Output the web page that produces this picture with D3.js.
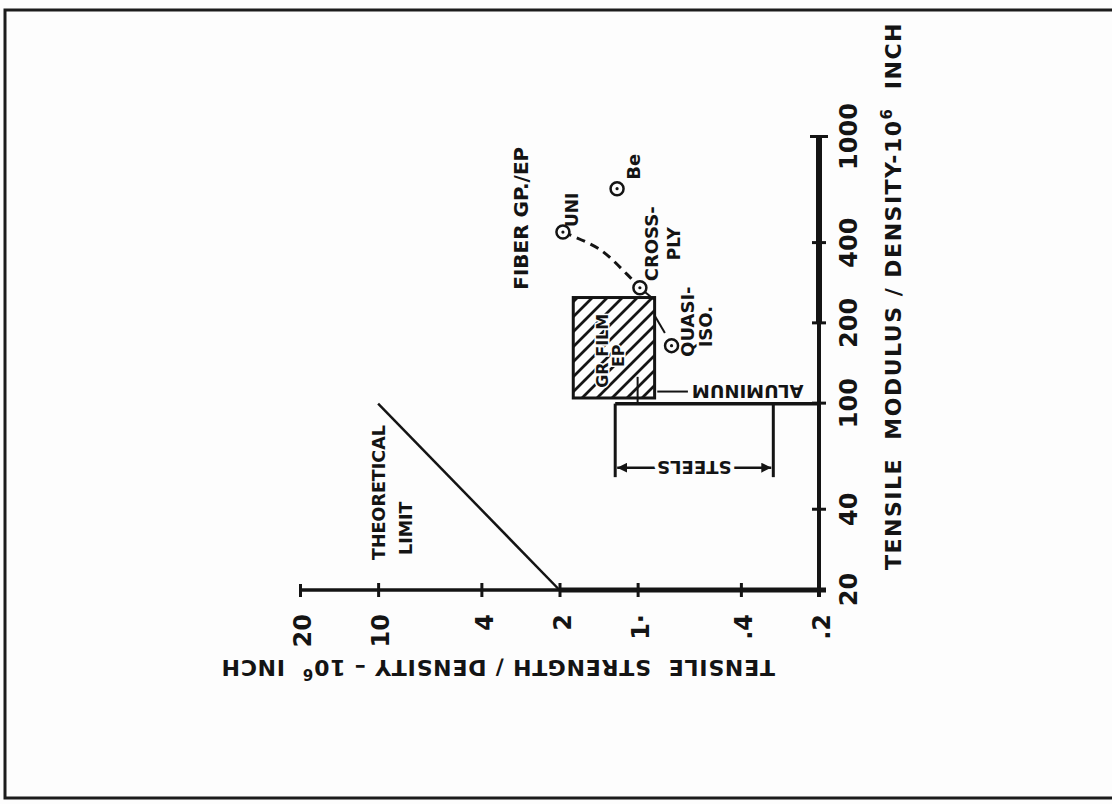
<!DOCTYPE html>
<html>
<head>
<meta charset="utf-8">
<script src="https://cdn.jsdelivr.net/npm/d3@7"></script>
<style>
    body { margin: 0; background: #fdfdfd; }
    svg { display: block; }
    text { font-family: "DejaVu Sans", sans-serif; font-weight: bold; fill: #141414; }
</style>
</head>
<body>
<svg id="svg" width="1112" height="804"></svg>
<script>
// axis ticks
var modTicks = [20, 40, 100, 200, 400, 1000],
    modLabels = ['20', '40', '100', '200', '400', '1000'],
    strTicks = [20, 10, 4, 2, 1, 0.4, 0.2],
    strLabels = ['20', '10', '4', '2', '1·', '.4', '.2'];

// materials (modulus/density, strength/density)
var pointNames = ['UNI', 'Be', 'CROSS-PLY', 'QUASI-ISO.'],
    pointModulus = [440, 640, 272, 165],
    pointStrength = [1.94, 1.2, 0.98, 0.74];

var fiberCurveModulus = [440, 379, 306, 272],
    fiberCurveStrength = [1.94, 1.40, 1.10, 0.98];

var quasiLeadModulus = [[272, 246], [214, 184]],
    quasiLeadStrength = [[0.98, 0.865], [0.86, 0.785]];

var theoryModulus = [20, 100],
    theoryStrength = [2, 10];

var filmModulus = [105, 250],
    filmStrength = [0.86, 1.77];

var steelModulus = [53, 100],
    steelStrength = [0.30, 1.22],
    steelDimModulus = 57.5;

var aluminumModulus = 100,
    aluminumStrength = [0.2, 1.22],
    aluminumMarkModulus = [100, 126],
    aluminumMarkStrength = 1.0,
    aluminumLeadModulus = 111,
    aluminumLeadStrength = [0.84, 0.64];

(function () {

    var ink = '#141414';

    var $svg = d3.select('#svg');

    // page frame
    $svg.append('path')
        .attr('d', 'M1112,10H5V798H1112')
        .attr('fill', 'none')
        .attr('stroke', '#1c1c1c')
        .attr('stroke-width', 3);

    var defs = $svg.append('defs');
    defs.append('pattern')
        .attr('id', 'hatch')
        .attr('patternUnits', 'userSpaceOnUse')
        .attr('width', 15)
        .attr('height', 15)
        .append('path')
        .attr('d', 'M0,0L15,15M-15,0L15,30M0,-15L30,15')
        .attr('stroke', ink)
        .attr('stroke-width', 2.8);

    var marker = defs.append('marker')
        .attr('id', 'arrow')
        .attr('viewBox', '0 0 10 10')
        .attr('refX', 10)
        .attr('refY', 5)
        .attr('markerWidth', 4)
        .attr('markerHeight', 4)
        .attr('orient', 'auto-start-reverse');
    marker.append('path').attr('d', 'M0,0L10,5L0,10z').attr('fill', ink);

    var x = d3.scaleLog().domain([20, 1000]).range([0, 453]),
        y = d3.scaleLog().domain([0.2, 20]).range([519, 0]);

    // whole chart is drawn upright, then turned a quarter counter-clockwise
    var $plot = $svg.append('g')
        .attr('transform', 'translate(300,590) rotate(-90)');

    function seg(x1, y1, x2, y2, w) {
        return $plot.append('line')
            .attr('x1', x1).attr('y1', y1)
            .attr('x2', x2).attr('y2', y2)
            .attr('stroke', ink)
            .attr('stroke-width', w);
    }

    // axis lines
    seg(x(20) - 7, y(0.2), x(200), y(0.2), 4);
    seg(x(200), y(0.2), x(1000), y(0.2), 6);
    seg(x(20), y(20), x(20), y(2), 3.5);
    seg(x(20), y(2), x(20), y(0.2) + 7, 5);

    var $xAxis = $plot.append('g')
        .attr('transform', 'translate(0,' + y(0.2) + ')')
        .call(d3.axisBottom(x)
            .tickValues(modTicks)
            .tickFormat(function (d, i) { return modLabels[i]; })
            .tickSize(7)
            .tickPadding(14));
    $xAxis.select('.domain').remove();
    $xAxis.attr('font-family', '"DejaVu Sans", sans-serif')
        .attr('font-size', 24)
        .attr('font-weight', 'bold')
        .style('color', ink);
    $xAxis.selectAll('.tick line')
        .attr('y1', function (d) { return d === 1000 ? -9 : -7; })
        .attr('y2', function (d) { return d === 1000 ? 9 : 7; })
        .attr('stroke-width', 3);

    var $yAxis = $plot.append('g')
        .call(d3.axisLeft(y)
            .tickValues(strTicks)
            .tickFormat(function (d, i) { return strLabels[i]; })
            .tickSize(7)
            .tickPadding(17));
    $yAxis.select('.domain').remove();
    $yAxis.attr('font-family', '"DejaVu Sans", sans-serif')
        .attr('font-size', 24)
        .attr('font-weight', 'bold')
        .style('color', ink);
    $yAxis.selectAll('.tick line')
        .attr('x1', function (d) { return d === 20 ? 6 : 7; })
        .attr('stroke-width', 3);
    $yAxis.selectAll('.tick text').attr('dy', '0.45em');

    // axis titles
    var $xt = $plot.append('text')
        .attr('x', x(20) + 20)
        .attr('y', y(0.2) + 82)
        .attr('font-size', 22)
        .attr('letter-spacing', 1.5)
        .style('white-space', 'pre');
    $xt.append('tspan').text('TENSILE  MODULUS / DENSITY-10');
    $xt.append('tspan').attr('dy', -9).attr('font-size', 15).text('6');
    $xt.append('tspan').attr('dy', 9).text('  INCH');

    var $yt = $plot.append('text')
        .attr('transform', 'translate(' + (x(20) - 70) + ',' + (y(0.2) - 44) + ') rotate(-90)')
        .attr('font-size', 22)
        .attr('letter-spacing', 0.8)
        .style('white-space', 'pre');
    $yt.append('tspan').text('TENSILE  STRENGTH / DENSITY – 10');
    $yt.append('tspan').attr('dy', -9).attr('font-size', 15).text('6');
    $yt.append('tspan').attr('dy', 9).text('  INCH');

    // theoretical limit
    seg(x(theoryModulus[0]), y(theoryStrength[0]), x(theoryModulus[1]), y(theoryStrength[1]), 2.5);
    $plot.append('text')
        .attr('x', x(20) + 30).attr('y', y(10) + 7)
        .attr('font-size', 17.5)
        .text('THEORETICAL');
    $plot.append('text')
        .attr('x', x(20) + 35).attr('y', y(10) + 34)
        .attr('font-size', 17.5)
        .text('LIMIT');

    // aluminum
    seg(x(aluminumModulus), y(aluminumStrength[0]), x(aluminumModulus), y(aluminumStrength[1]), 3.5);
    seg(x(aluminumMarkModulus[0]), y(aluminumMarkStrength), x(aluminumMarkModulus[1]), y(aluminumMarkStrength), 2);
    seg(x(aluminumLeadModulus), y(aluminumLeadStrength[0]), x(aluminumLeadModulus), y(aluminumLeadStrength[1]), 2);
    $plot.append('text')
        .attr('transform', 'translate(' + x(aluminumLeadModulus) + ',' + (y(aluminumLeadStrength[1]) + 4) + ') rotate(-90)')
        .attr('text-anchor', 'end')
        .attr('dy', '0.36em')
        .attr('font-size', 18)
        .text('ALUMINUM');

    // steels bracket
    steelStrength.forEach(function (s) {
        seg(x(steelModulus[1]), y(s), x(steelModulus[0]), y(s), 3);
    });
    seg(x(steelDimModulus), y(steelStrength[1]) + 2, x(steelDimModulus), y(steelStrength[0]) - 2, 2.5)
        .attr('marker-start', 'url(#arrow)')
        .attr('marker-end', 'url(#arrow)');
    $plot.append('text')
        .attr('transform', 'translate(' + x(steelDimModulus) + ',' + ((y(steelStrength[0]) + y(steelStrength[1])) / 2) + ') rotate(-90)')
        .attr('text-anchor', 'middle')
        .attr('dy', '0.36em')
        .attr('font-size', 18)
        .attr('stroke', '#fdfdfd')
        .attr('stroke-width', 8)
        .attr('paint-order', 'stroke')
        .text('STEELS');

    // graphite film box
    $plot.append('rect')
        .attr('x', x(filmModulus[0]))
        .attr('y', y(filmStrength[1]))
        .attr('width', x(filmModulus[1]) - x(filmModulus[0]))
        .attr('height', y(filmStrength[0]) - y(filmStrength[1]))
        .attr('fill', 'url(#hatch)')
        .attr('stroke', ink)
        .attr('stroke-width', 3);
    var uc = (x(filmModulus[0]) + x(filmModulus[1])) / 2,
        vc = (y(filmStrength[0]) + y(filmStrength[1])) / 2;
    $plot.append('text')
        .attr('x', uc - 3).attr('y', vc - 6)
        .attr('text-anchor', 'middle')
        .attr('font-size', 16)
        .attr('stroke', '#fdfdfd').attr('stroke-width', 3).attr('paint-order', 'stroke')
        .text('GR FILM');
    $plot.append('text')
        .attr('x', uc - 8).attr('y', vc + 10)
        .attr('text-anchor', 'middle')
        .attr('font-size', 16)
        .attr('stroke', '#fdfdfd').attr('stroke-width', 3).attr('paint-order', 'stroke')
        .text('EP');

    // fiber gr/ep family
    var curve = fiberCurveModulus.map(function (m, i) { return [m, fiberCurveStrength[i]]; });
    $plot.append('path')
        .attr('d', d3.line()
            .x(function (d) { return x(d[0]); })
            .y(function (d) { return y(d[1]); })
            .curve(d3.curveCatmullRom)(curve))
        .attr('fill', 'none')
        .attr('stroke', ink)
        .attr('stroke-width', 3)
        .attr('stroke-dasharray', '9,6');

    quasiLeadModulus.forEach(function (ms, i) {
        seg(x(ms[0]), y(quasiLeadStrength[i][0]), x(ms[1]), y(quasiLeadStrength[i][1]), 2);
    });

    var points = pointNames.map(function (n, i) {
        return { name: n, m: pointModulus[i], s: pointStrength[i] };
    });

    var $pts = $plot.append('g').selectAll('g.pt')
        .data(points)
        .join('g')
        .attr('class', 'pt')
        .attr('transform', function (d) { return 'translate(' + x(d.m) + ',' + y(d.s) + ')'; });
    $pts.append('circle')
        .attr('r', 6.5)
        .attr('fill', '#fdfdfd')
        .attr('stroke', ink)
        .attr('stroke-width', 2.5);
    $pts.append('circle')
        .attr('r', 1.6)
        .attr('fill', ink);

    var pu = function (i) { return x(pointModulus[i]); },
        pv = function (i) { return y(pointStrength[i]); };

    $plot.append('text').attr('x', pu(0) + 5).attr('y', pv(0) + 15).attr('font-size', 17).text('UNI');
    $plot.append('text').attr('x', pu(1) + 9).attr('y', pv(1) + 23).attr('font-size', 18).text('Be');
    $plot.append('text').attr('x', pu(2) + 44).attr('y', pv(2) + 18).attr('text-anchor', 'middle').attr('font-size', 18).text('CROSS-');
    $plot.append('text').attr('x', pu(2) + 44).attr('y', pv(2) + 40).attr('text-anchor', 'middle').attr('font-size', 17).text('PLY');
    $plot.append('text').attr('x', pu(3) + 24).attr('y', pv(3) + 22).attr('text-anchor', 'middle').attr('font-size', 18).text('QUASI-');
    $plot.append('text').attr('x', pu(3) + 19).attr('y', pv(3) + 40).attr('text-anchor', 'middle').attr('font-size', 18).text('ISO.');

    $plot.append('text')
        .attr('x', x(fiberCurveModulus[3]) - 2)
        .attr('y', pv(0) - 35)
        .attr('font-size', 20)
        .text('FIBER GP./EP');

})();
</script>
</body>
</html>
